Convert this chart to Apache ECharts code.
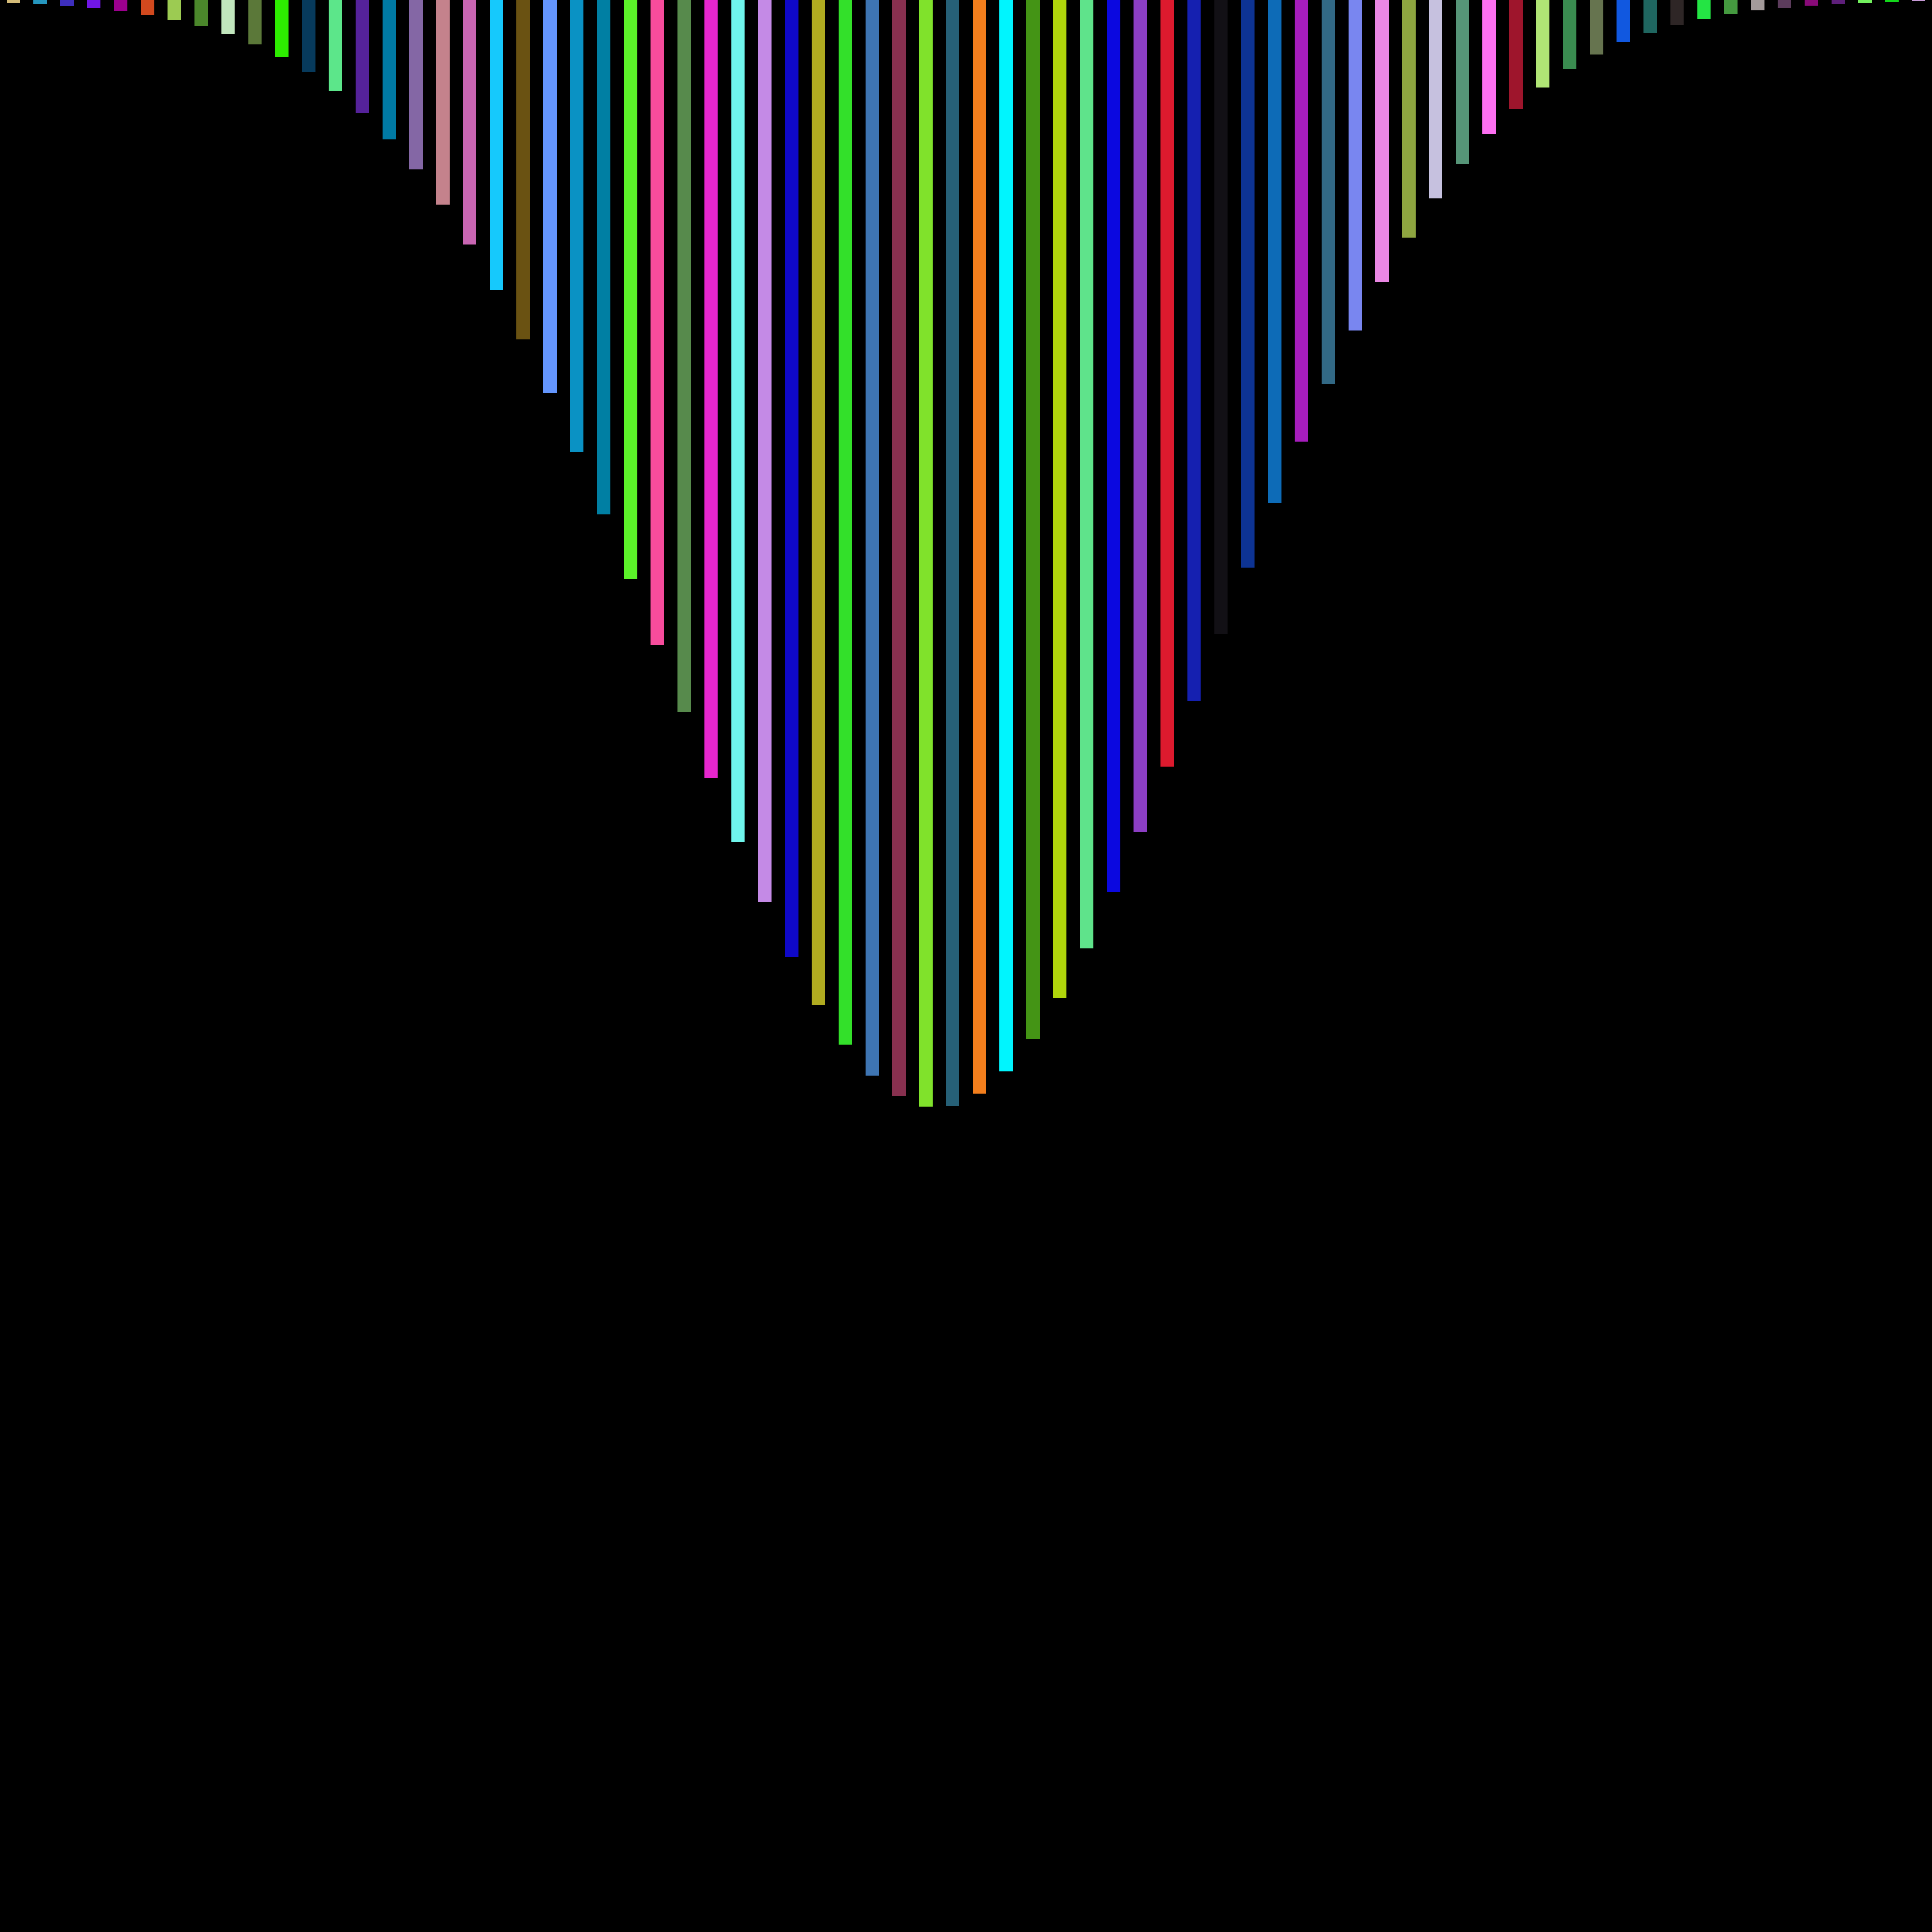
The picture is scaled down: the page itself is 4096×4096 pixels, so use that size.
<!DOCTYPE html>
<html>
<head>
    <meta charset="UTF-8">
    <title>bars</title>
    <script src="https://cdn.jsdelivr.net/npm/echarts@6/dist/echarts.min.js"></script>
    <style>
        html, body { margin: 0; padding: 0; background: #000; }
    </style>
</head>
<body>
    <div id="chart" style="width:4096px;height:4096px"></div>
</body>
<script type="text/javascript">
    // values, percent of the full height (axis runs top -> bottom)
    var values = [
        0.15, 0.22, 0.31, 0.42, 0.58, 0.77, 1.03, 1.36, 1.77, 2.30,
        2.93, 3.73, 4.70, 5.84, 7.21, 8.77, 10.59, 12.66, 15.00, 17.56,
        20.36, 23.39, 26.62, 29.96, 33.39, 36.86, 40.28, 43.59, 46.69, 49.51,
        52.02, 54.07, 55.68, 56.74, 57.27, 57.23, 56.61, 55.45, 53.77, 51.65,
        49.08, 46.18, 43.05, 39.69, 36.28, 32.82, 29.39, 26.05, 22.87, 19.88,
        17.10, 14.58, 12.30, 10.26, 8.48, 6.94, 5.64, 4.53, 3.59, 2.82,
        2.20, 1.71, 1.29, 0.98, 0.73, 0.54, 0.39, 0.29, 0.22, 0.15,
        0.105, 0.07
    ];
    var colors = [
        '#d4bb78', '#2596be', '#3d2ebd', '#7116e6', '#9c008e', '#d2491e', '#9ccb52', '#4b872b', '#c1e6bd', '#5b7839',
        '#2ded00', '#073a5c', '#5ce68a', '#55229a', '#007aa5', '#8467a5', '#c4828c', '#c865b2', '#16c9fc', '#6a5212',
        '#6496fe', '#0a92c4', '#007fa3', '#5bf229', '#f74c9c', '#578a4c', '#e626ce', '#6ff5ec', '#c48ae6', '#0f08c8',
        '#b0ab20', '#33e02a', '#3e75b3', '#88304f', '#80e22b', '#266077', '#f37e1c', '#00f5fe', '#449415', '#b0d60b',
        '#5fe38b', '#0b08e0', '#8c3ec4', '#dd1a2e', '#1520b0', '#121015', '#0d3393', '#0d6bb7', '#a61dbc', '#326985',
        '#7986f0', '#ea87e4', '#8ea540', '#c6c1df', '#569578', '#fd6ff1', '#9e152c', '#b0e575', '#3a8c50', '#66744f',
        '#1158e0', '#1f6660', '#2e2626', '#24e444', '#459a40', '#a49b9b', '#5c3c5c', '#880a78', '#5e1f7a', '#72f05e',
        '#13d71b', '#c79ad6'
    ];
    var categories = [];
    for (var i = 0; i < values.length; i++) {
        categories.push(String(i + 1));
    }

    var seriesData = [];
    for (var i = 0; i < values.length; i++) {
        seriesData.push({
            value: values[i],
            itemStyle: { color: colors[i] }
        });
    }

    var option = {
        backgroundColor: '#000000',
        animation: false,
        grid: {
            left: 0,
            right: 0,
            top: 0,
            bottom: 0,
            containLabel: false
        },
        xAxis: {
            type: 'category',
            data: categories,
            show: false
        },
        yAxis: {
            type: 'value',
            min: 0,
            max: 100,
            inverse: true,
            show: false
        },
        series: [
            {
                type: 'bar',
                data: seriesData,
                barCategoryGap: '50%'
            }
        ]
    };
    echarts.init(document.getElementById("chart")).setOption(option);
</script>
</html>
